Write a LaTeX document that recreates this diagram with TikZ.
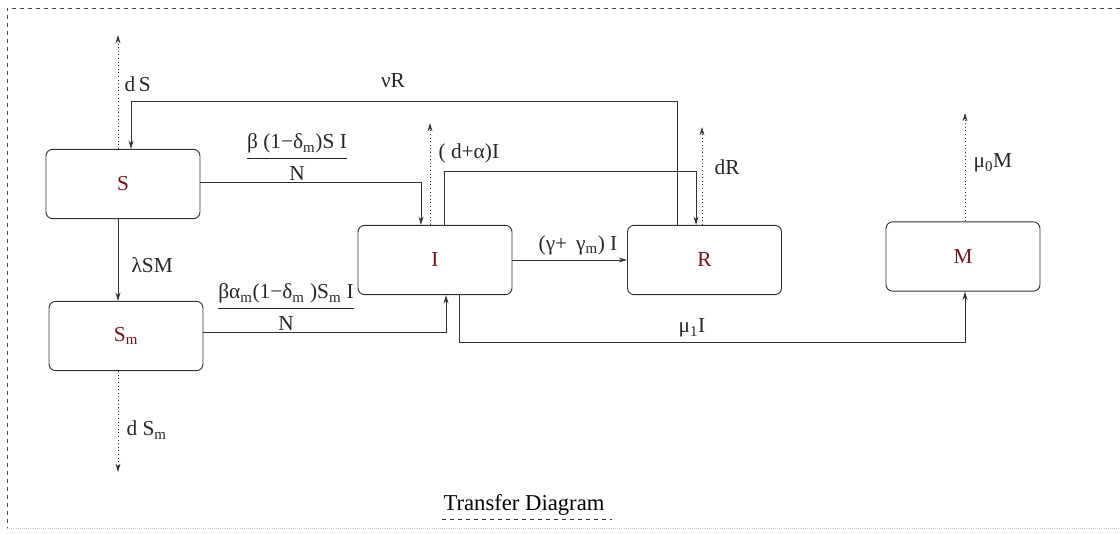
\documentclass[tikz,border=0pt]{standalone}
\usepackage{fontspec}
\setmainfont{Liberation Serif}
\usetikzlibrary{positioning,arrows.meta}
\definecolor{compred}{RGB}{115,20,28}
\definecolor{linegray}{RGB}{50,50,50}

\begin{document}
\begin{tikzpicture}[
  x=0.75pt, y=-0.75pt,
  >={Stealth[length=2.2mm,width=1.3mm]},
  every node/.style={font=\fontsize{16}{18}\selectfont, inner sep=1pt},
  comp/.style={draw=linegray, line width=0.7pt, rounded corners=5pt,
    minimum width=115.5pt, minimum height=52pt, text=compred},
  flow/.style={->, draw=linegray, line width=0.7pt},
  loss/.style={->, draw=linegray, dotted, line width=0.7pt},
  rate/.style={text=black!85}
]
\useasboundingbox (0,0) rectangle (1120,534);

% frame
\draw[dashed, black!70, line width=0.5pt] (1120,8) -- (7,8) -- (7,528);
\draw[densely dotted, black!25, line width=0.6pt] (7,528) -- (1120,528);

% compartments
\node[comp] (S)  at (123,184)   {S};
\node[comp] (Sm) at (126,336)   {S\textsubscript{m}};
\node[comp] (I)  at (435,260)   {I};
\node[comp] (R)  at (704.5,260) {R};
\node[comp] (M)  at (963,256.5) {M};

% bend points
\coordinate (dSc)  at (118,35);
\coordinate (nuR)  at (677,101);
\coordinate (nuS)  at (131,101);
\coordinate (sI)   at (421,182);
\coordinate (dIc)  at (430,123);
\coordinate (iRa)  at (444,171);
\coordinate (iRb)  at (696,171);
\coordinate (dRc)  at (702,127);
\coordinate (muM)  at (965,113);
\coordinate (smI)  at (446,332);
\coordinate (iMa)  at (459,342);
\coordinate (iMb)  at (965,342);
\coordinate (dSmc) at (118,472);

% flows
\draw[flow] (nuR |- R.north) -- (nuR) -- (nuS) -- (nuS |- S.north);
\draw[flow] (S.east |- sI) -- (sI) -- (sI |- I.north);
\draw[flow] (iRa |- I.north) -- (iRa) -- (iRb) -- (iRb |- R.north);
\draw[flow] (I.east) -- (R.west);
\draw[flow] (dSc |- S.south) -- (dSc |- Sm.north);
\draw[flow] (Sm.east |- smI) -- (smI) -- (smI |- I.south);
\draw[flow] (iMa |- I.south) -- (iMa) -- (iMb) -- (iMb |- M.south);

% losses
\draw[loss] (dSc |- S.north) -- (dSc);
\draw[loss] (dIc |- I.north) -- (dIc);
\draw[loss] (dRc |- R.north) -- (dRc);
\draw[loss] (muM |- M.north) -- (muM);
\draw[loss] (dSmc |- Sm.south) -- (dSmc);

% rates
\node[rate, anchor=west] (lbS)  at (123,84)  {d\,S};
\node[rate] (lbnu) at (393,81) {νR};
\node[rate] (lbSI) at (297,157)
  {$\displaystyle\frac{\mbox{β (1−δ\textsubscript{m})S I}}{\mbox{N}}$};
\node[rate, anchor=west] (lbdI) at (437,153) {( d+α)I};
\node[rate, anchor=west] (lbdR) at (713,167) {dR};
\node[rate, anchor=west] (lbmu0) at (972,163) {μ\textsubscript{0}M};
\node[rate] (lbgam) at (578,245) {(γ+\, γ\textsubscript{m}) I};
\node[rate, anchor=west] (lblam) at (130,265) {λSM};
\node[rate] (lbSmI) at (286,307)
  {$\displaystyle\frac{\mbox{βα\textsubscript{m}(1−δ\textsubscript{m} )S\textsubscript{m} I}}{\mbox{N}}$};
\node[rate] (lbmu1) at (692,328) {μ\textsubscript{1}I};
\node[rate, anchor=west] (lbdSm) at (125,430) {d S\textsubscript{m}};

% caption
\node[font=\fontsize{17}{19}\selectfont] (cap) at (524,505) {Transfer Diagram};
\draw[dashed, black!80] (cap.south west |- 0,519) -- (612,519);
\end{tikzpicture}
\end{document}
